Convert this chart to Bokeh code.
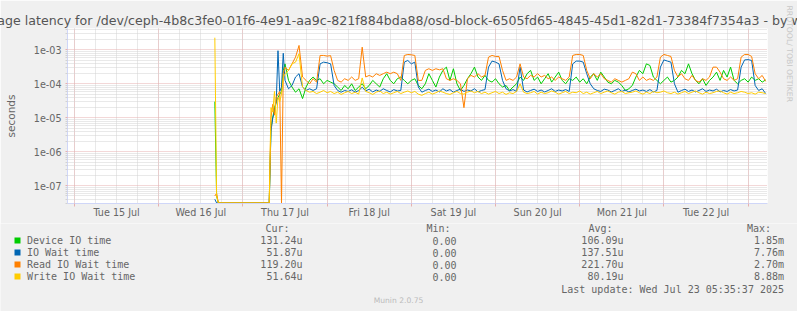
import pandas as pd
from bokeh.plotting import figure
from bokeh.layouts import column
from bokeh.models import FixedTicker, Range1d, CustomJSTickFormatter, Title
from bokeh.core.properties import value
from bokeh.embed import file_html
from bokeh.resources import INLINE

# ---------------- data ----------------
title_text = ("Average latency for /dev/ceph-4b8c3fe0-01f6-4e91-aa9c-821f884bda88/"
              "osd-block-6505fd65-4845-45d1-82d1-73384f7354a3 - by week")
series_names = ["Device IO time", "IO Wait time", "Read IO Wait time", "Write IO Wait time"]
series_colors = ["#00CC00", "#0066B3", "#FF8000", "#FFCC00"]
cur_vals = ["131.24u", "51.87u", "119.20u", "51.64u"]
min_vals = ["0.00", "0.00", "0.00", "0.00"]
avg_vals = ["106.09u", "137.51u", "221.70u", "80.19u"]
max_vals = ["1.85m", "7.76m", "2.70m", "8.88m"]
col_headers = ["Cur:", "Min:", "Avg:", "Max:"]
last_update = "Last update: Wed Jul 23 05:35:37 2025"
y_label = "seconds"
footer = "Munin 2.0.75"
watermark = "RRDTOOL/ TOBI OETIKER"

x_tick_days = ["2025-07-15", "2025-07-16", "2025-07-17", "2025-07-18",
               "2025-07-19", "2025-07-20", "2025-07-21", "2025-07-22"]
x_tick_labels = ["Tue 15 Jul", "Wed 16 Jul", "Thu 17 Jul", "Fri 18 Jul",
                 "Sat 19 Jul", "Sun 20 Jul", "Mon 21 Jul", "Tue 22 Jul"]
y_tick_values = [1e-7, 1e-6, 1e-5, 1e-4, 1e-3]
y_tick_labels = ["1e-07", "1e-06", "1e-05", "1e-04", "1e-03"]

# irregular early samples (values in microseconds; 0 = zero latency)
early_times = ["2025-07-16 16:00", "2025-07-16 16:30", "2025-07-16 17:00", "2025-07-17 07:30",
               "2025-07-17 08:00", "2025-07-17 08:30", "2025-07-17 09:00", "2025-07-17 09:30",
               "2025-07-17 10:00", "2025-07-17 10:30", "2025-07-17 11:00", "2025-07-17 11:30"]
green_early = [30, 0.05, 0, 0, 5, 10, 20, 30, 40, 50, 60, 250]
blue_early = [0.04, 0, 0, 0, 4, 10, 15, 30, 950, 60, 80, 800]
orange_early = [0.05, 0.06, 0, 0, 10, 25, 12, 40, 50, 60, 0, 200]
yellow_early = [2300, 0.05, 0, 0, 20, 15, 60, 7, 40, 30, 50, 150]

# hourly samples from 2025-07-17 12:00 (microseconds)
main_start = "2025-07-17 12:00"
green_main = [390, 127, 81, 57, 72, 37, 81, 127, 159, 127,
              142, 101, 127, 113, 101, 81, 64, 90, 72, 101,
              64, 81, 101, 72, 90, 127, 101, 81, 142, 200,
              127, 101, 142, 159, 127, 101, 127, 142, 90, 72,
              101, 200, 127, 81, 159, 250, 312, 127, 280, 101,
              64, 90, 142, 200, 312, 159, 127, 178, 127, 113,
              142, 101, 81, 90, 64, 81, 101, 159, 127, 200,
              250, 127, 159, 101, 142, 200, 113, 159, 222, 127,
              101, 142, 127, 159, 113, 142, 101, 159, 200, 127,
              222, 159, 113, 101, 127, 113, 90, 64, 72, 90,
              159, 250, 200, 390, 350, 159, 127, 101, 127, 159,
              113, 127, 159, 250, 200, 390, 200, 127, 101, 142,
              90, 127, 159, 222, 127, 250, 159, 312, 127, 101,
              127, 142, 113, 159, 127, 142, 113, 131]
blue_main = [127, 72, 90, 160, 200, 81, 64, 72, 64, 72,
             390, 438, 420, 390, 90, 64, 57, 64, 60, 67,
             57, 64, 80, 62, 70, 58, 66, 60, 72, 64,
             58, 68, 62, 64, 438, 491, 390, 438, 81, 57,
             64, 70, 60, 66, 58, 72, 62, 68, 57, 64,
             70, 60, 66, 62, 72, 58, 64, 68, 312, 470,
             438, 390, 127, 72, 62, 68, 60, 312, 66, 58,
             64, 70, 60, 66, 58, 64, 72, 60, 66, 62,
             68, 60, 390, 470, 470, 438, 200, 101, 72, 64,
             60, 70, 66, 58, 64, 72, 60, 66, 58, 64,
             70, 62, 66, 60, 68, 58, 64, 312, 510, 470,
             438, 101, 57, 64, 70, 60, 66, 58, 64, 72,
             60, 66, 62, 70, 58, 64, 60, 68, 62, 66,
             312, 510, 520, 491, 90, 64, 72, 52]
orange_main = [312, 250, 390, 615, 1360, 160, 127, 100, 142, 113,
               690, 690, 660, 680, 250, 127, 113, 142, 127, 160,
               127, 142, 1210, 160, 178, 160, 200, 178, 200, 222,
               200, 222, 200, 127, 690, 737, 720, 690, 127, 127,
               250, 280, 250, 280, 260, 280, 142, 127, 142, 127,
               101, 20, 142, 178, 160, 200, 160, 178, 615, 690,
               644, 644, 250, 127, 142, 127, 160, 390, 160, 142,
               178, 160, 200, 160, 178, 142, 160, 127, 160, 142,
               127, 160, 690, 737, 737, 690, 250, 142, 200, 160,
               200, 142, 127, 113, 142, 127, 113, 127, 142, 222,
               200, 127, 160, 127, 142, 127, 160, 615, 737, 690,
               644, 250, 160, 200, 142, 127, 178, 127, 113, 142,
               127, 160, 312, 312, 222, 142, 127, 160, 127, 142,
               615, 737, 737, 644, 200, 142, 178, 119]
yellow_main = [200, 250, 390, 438, 770, 81, 64, 57, 60, 52,
               57, 64, 55, 60, 52, 57, 49, 55, 60, 52,
               57, 50, 150, 60, 55, 49, 57, 62, 52, 57,
               50, 55, 60, 52, 57, 62, 55, 60, 50, 46,
               52, 57, 50, 55, 62, 57, 52, 49, 55, 60,
               52, 50, 57, 62, 55, 60, 52, 57, 50, 55,
               60, 52, 57, 49, 55, 52, 60, 100, 57, 52,
               55, 60, 50, 57, 52, 55, 62, 57, 50, 55,
               60, 52, 57, 55, 62, 52, 57, 50, 55, 60,
               52, 57, 62, 55, 50, 57, 60, 52, 55, 57,
               62, 55, 50, 57, 52, 60, 55, 57, 62, 55,
               52, 57, 50, 55, 60, 52, 57, 62, 55, 50,
               57, 52, 55, 60, 62, 55, 50, 57, 52, 55,
               60, 57, 52, 55, 50, 57, 55, 52]

# ---------------- layout constants ----------------
W = 797
TOP_H = 223          # main figure height (plot frame 28..203)
LEG_H = 311 - TOP_H  # legend strip height
FL, FR, FT, FB = 67, 767, 28, 203
BG = "#F0F0F0"
FONT_C = "#666666"
AXIS_C = "#CFD6F8"
MGRID_C = "#E6B0B0"
GRID_C = "#D2D2D2"
MONO = "DejaVu Sans Mono"


def ms(t):
    return pd.Timestamp(t).timestamp() * 1000.0


x_start = ms("2025-07-14 22:00:15")
x_end = ms("2025-07-23 05:31:15")
y_min, y_max = 3.0e-8, 4.29e-3

p = figure(width=W, height=TOP_H, x_axis_type="datetime", y_axis_type="log",
           x_range=Range1d(x_start, x_end), y_range=Range1d(y_min, y_max),
           min_border_left=FL, min_border_right=W - FR, min_border_top=FT,
           min_border_bottom=TOP_H - FB, title=None, frame_align=False,
           output_backend="svg", toolbar_location=None,
           background_fill_color="#FFFFFF", border_fill_color=BG,
           outline_line_color=None)

# title (above) and RRDtool watermark (right side, after an empty spacer)
p.add_layout(Title(text=title_text, align="left", offset=-98.4, standoff=2,
                   text_font="DejaVu Sans", text_font_size="12.6px",
                   text_font_style="normal", text_color="#555555"), "above")
p.add_layout(Title(text=" ", standoff=5, text_font="DejaVu Sans", text_font_size="7.7px",
                   text_color=BG), "right")
p.add_layout(Title(text=watermark, align="left", offset=-23, standoff=0,
                   vertical_align="middle",
                   text_font="DejaVu Sans", text_font_size="7.7px",
                   text_font_style="normal", text_color="#C8C8C8"), "right")

# ---- grid / ticks ----
midnights = [ms(d) for d in pd.date_range("2025-07-15", "2025-07-23", freq="1D")]
six_hours = [ms(d) for d in pd.date_range("2025-07-14 18:00", "2025-07-23 06:00", freq="6h")]
noons = [ms(pd.Timestamp(d) + pd.Timedelta(hours=12)) for d in x_tick_days]
y_minor = [k * 10.0 ** e for e in range(-8, -1) for k in range(2, 10)]

p.xaxis.ticker = FixedTicker(ticks=noons, minor_ticks=midnights)
p.xaxis.formatter = CustomJSTickFormatter(
    args=dict(vals=noons, labs=x_tick_labels),
    code="for (let i = 0; i < vals.length; i++) { if (Math.abs(vals[i] - tick) < 1000) return labs[i]; } return '';")
p.yaxis.ticker = FixedTicker(ticks=y_tick_values, minor_ticks=y_minor)
p.yaxis.formatter = CustomJSTickFormatter(
    args=dict(vals=y_tick_values, labs=y_tick_labels),
    code="for (let i = 0; i < vals.length; i++) { if (Math.abs(Math.log10(vals[i]) - Math.log10(tick)) < 1e-6) return labs[i]; } return '';")

p.xgrid.ticker = FixedTicker(ticks=midnights, minor_ticks=six_hours)
p.ygrid.ticker = FixedTicker(ticks=y_tick_values, minor_ticks=y_minor)
for g in (p.xgrid, p.ygrid):
    g.grid_line_color = MGRID_C
    g.grid_line_dash = "1 1"
    g.grid_line_width = 1
    g.minor_grid_line_color = GRID_C
    g.minor_grid_line_dash = "1 1"
    g.minor_grid_line_width = 1

for ax in (p.xaxis, p.yaxis):
    ax.axis_line_color = AXIS_C
    ax.major_label_text_font = "DejaVu Sans"
    ax.major_label_text_font_size = "9.6px"
    ax.major_label_text_color = FONT_C

p.xaxis.major_tick_line_color = None
p.xaxis.major_tick_out = 0
p.xaxis.major_tick_in = 0
p.xaxis.minor_tick_line_color = MGRID_C
p.xaxis.minor_tick_out = 3
p.xaxis.minor_tick_in = 0
p.xaxis.major_label_standoff = 0

p.yaxis.major_tick_line_color = MGRID_C
p.yaxis.major_tick_out = 2
p.yaxis.major_tick_in = 0
p.yaxis.minor_tick_line_color = GRID_C
p.yaxis.minor_tick_out = 2
p.yaxis.minor_tick_in = 0
p.yaxis.major_label_standoff = 4
p.yaxis.axis_label = y_label
p.yaxis.axis_label_text_font = "DejaVu Sans"
p.yaxis.axis_label_text_font_size = "10.5px"
p.yaxis.axis_label_text_font_style = "normal"
p.yaxis.axis_label_text_color = FONT_C
p.yaxis.axis_label_standoff = 14

# ---- series ----
floor_val = y_min * 1.04
all_times = pd.to_datetime(early_times).append(
    pd.date_range(main_start, periods=len(green_main), freq="1h"))
series_values = [green_early + green_main, blue_early + blue_main,
                 orange_early + orange_main, yellow_early + yellow_main]
for vals, col in zip(series_values, series_colors):
    ys = [v * 1e-6 if v > 0 else floor_val for v in vals]
    p.line(all_times, ys, line_color=col, line_width=1)

# ---------------- legend strip (pixel coordinates of the strip) ----------------
q = figure(width=W, height=LEG_H, x_range=Range1d(0, W), y_range=Range1d(LEG_H, 0),
           x_axis_location=None, y_axis_location=None, title=None, frame_align=False,
           min_border_left=0, min_border_right=0, min_border_top=0, min_border_bottom=0,
           output_backend="svg", toolbar_location=None,
           background_fill_color=BG, border_fill_color=BG, outline_line_color=None)
q.xgrid.visible = False
q.ygrid.visible = False

# rows measured on the full picture, shifted into the strip
hdr_y = 227.5 - TOP_H
row_y = [v - TOP_H for v in (240, 252, 264, 276)]
upd_y = 288.5 - TOP_H
foot_y = 300 - TOP_H
hdr_x = [265, 426, 588, 746.5]


def mono_text(xs, ys, texts, align="left", color=FONT_C, size="10px", font=MONO):
    q.text(x=xs, y=ys, text=texts, text_font=value(font), text_font_size=value(size),
           text_color=color, text_align=align, text_baseline="middle")


mono_text(hdr_x, [hdr_y] * 4, col_headers)
q.rect(x=[17] * 4, y=row_y, width=6, height=6, fill_color=series_colors, line_color=None)
mono_text([26.5] * 4, row_y, series_names)
mono_text([302] * 4, row_y, cur_vals, align="right")
mono_text([456] * 4, row_y, min_vals, align="right")
mono_text([623] * 4, row_y, avg_vals, align="right")
mono_text([783.5] * 4, row_y, max_vals, align="right")
mono_text([783.5], [upd_y], [last_update], align="right")
mono_text([398], [foot_y], [footer], align="center", color="#BBBBBB", size="7.6px", font="DejaVu Sans")

layout = column(p, q, spacing=0)
open("out.html", "w").write(file_html(layout, INLINE))
